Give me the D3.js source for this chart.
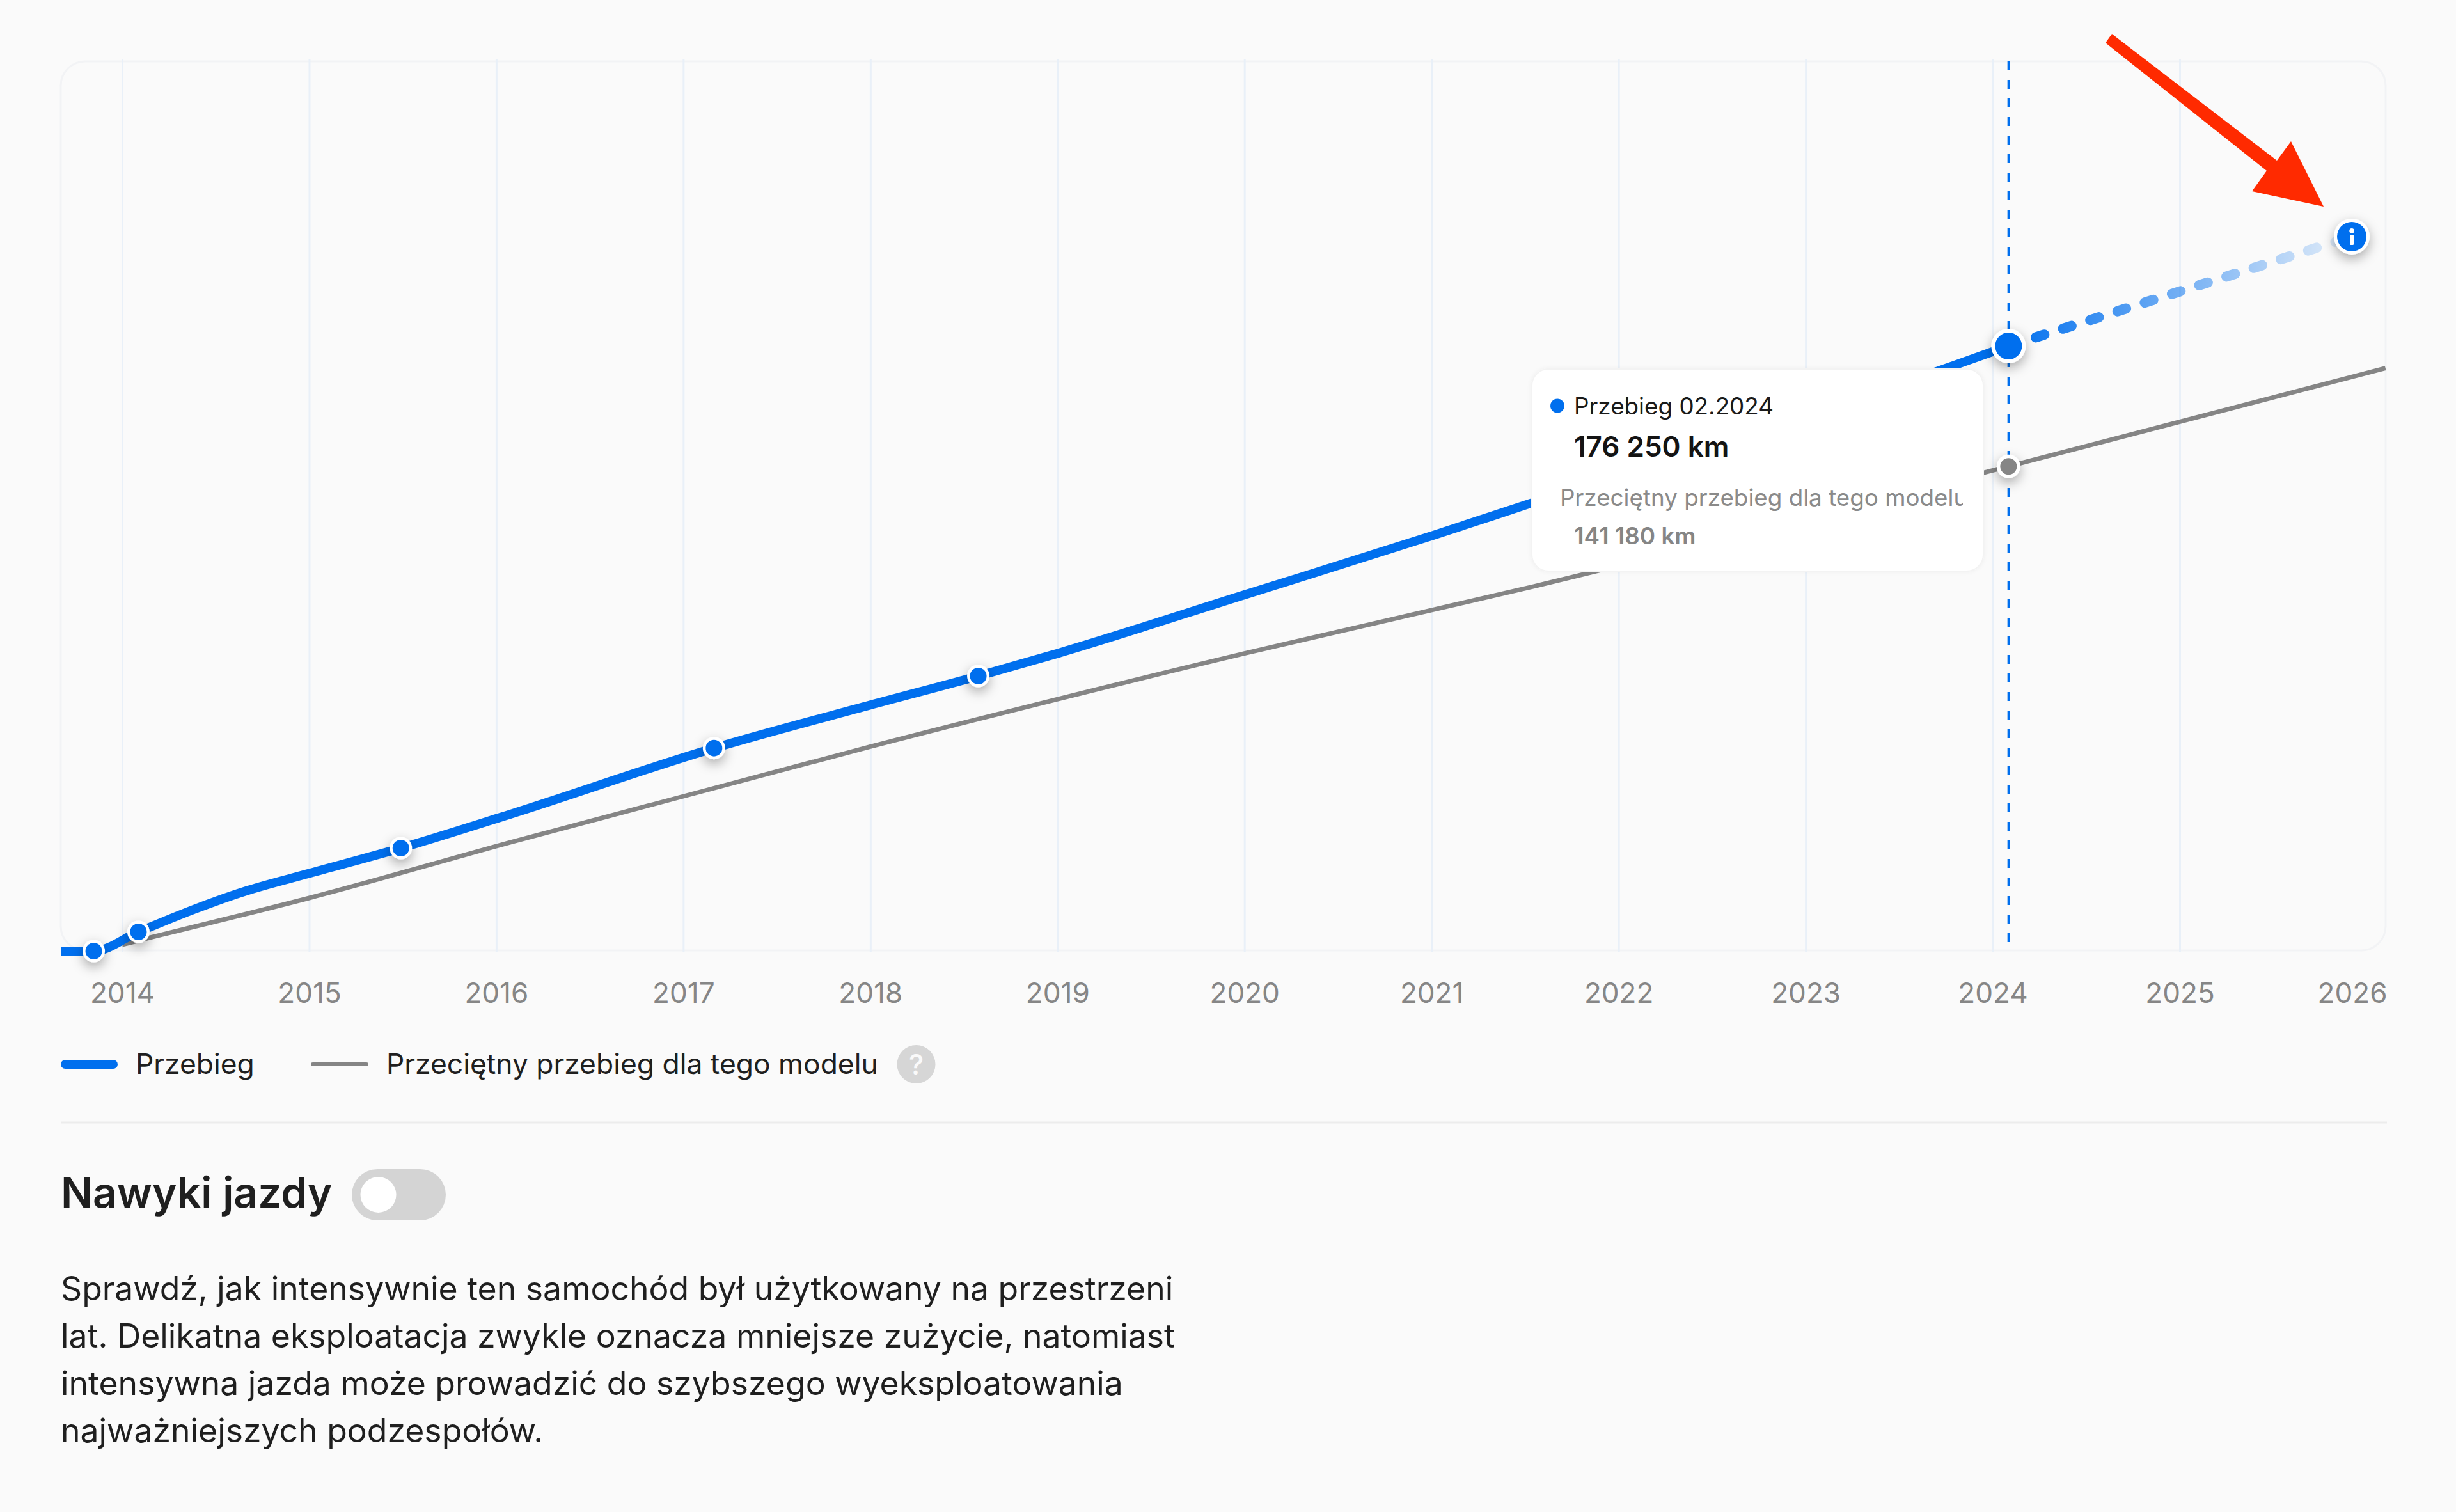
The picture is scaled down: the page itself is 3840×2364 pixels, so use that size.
<!DOCTYPE html>
<html lang="pl">
<head>
<meta charset="utf-8">
<title>Przebieg</title>
<script src="https://cdn.jsdelivr.net/npm/d3@7"></script>
<style>
html, body { margin: 0; background: #fafafa; }
svg { display: block; font-family: Inter, "Noto Sans", sans-serif; }
</style>
</head>
<body>
<svg id="chart" width="3840" height="2364"></svg>
<script>

/*********************
 * data
 *********************/

var tickYears = [2014, 2015, 2016, 2017, 2018, 2019, 2020, 2021, 2022, 2023, 2024, 2025, 2026];

// mileage line (year as a fraction, km)
var przebiegYears = [2013.672, 2013.848, 2014.087, 2014.673, 2015.0, 2015.49, 2016.08, 2017.164, 2018.0, 2018.577, 2019.0, 2020.0, 2021.0, 2021.52, 2023.74, 2024.085];
var przebiegKm = [0, 0, 5590, 17700, 22640, 30000, 39950, 59120, 71680, 80120, 86700, 103780, 120930, 130240, 169550, 176250];

// which of them carry a marker
var markerIdx = [1, 2, 5, 7, 9];

// dashed forecast
var prognozaYears = [2024.085, 2025.92];
var prognozaKm = [176250, 208130];

// model average
var sredniaYears = [2014.0, 2014.095, 2015.0, 2016.08, 2018.0, 2020.0, 2021.55, 2024.085, 2026.1];
var sredniaKm = [1860, 3170, 15465, 31750, 59550, 86700, 106260, 141180, 169800];

var legendLabels = ['Przebieg', 'Przeciętny przebieg dla tego modelu'];
var bodyLines = [
    'Sprawdź, jak intensywnie ten samochód był użytkowany na przestrzeni',
    'lat. Delikatna eksploatacja zwykle oznacza mniejsze zużycie, natomiast',
    'intensywna jazda może prowadzić do szybszego wyeksploatowania',
    'najważniejszych podzespołów.'
];


/*********************
 * setup
 *********************/

var BLUE = '#006fee';
var GREY = '#858585';
var INK = '#1f1f1f';

var plot = { left: 95, right: 3730, top: 96, bottom: 1486 };

var x = d3.scaleLinear().domain([2014, 2025]).range([191, 3408]);
var y = d3.scaleLinear().domain([0, 176250]).range([1487, 541]);

var svg = d3.select('#chart');
var defs = svg.append('defs');

var shadow = defs.append('filter')
    .attr('id', 'shadow')
    .attr('x', '-100%').attr('y', '-100%')
    .attr('width', '300%').attr('height', '300%')
    ;
shadow.append('feDropShadow')
    .attr('dx', 0).attr('dy', 7)
    .attr('stdDeviation', 9)
    .attr('flood-color', '#000')
    .attr('flood-opacity', 0.32)
    ;

var cardShadow = defs.append('filter')
    .attr('id', 'cardShadow')
    .attr('x', '-10%').attr('y', '-10%')
    .attr('width', '120%').attr('height', '120%')
    ;
cardShadow.append('feDropShadow')
    .attr('dx', 0).attr('dy', 0)
    .attr('stdDeviation', 3)
    .attr('flood-color', '#000')
    .attr('flood-opacity', 0.05)
    ;

var fade = defs.append('linearGradient')
    .attr('id', 'fade')
    .attr('gradientUnits', 'userSpaceOnUse')
    .attr('x1', x(prognozaYears[0])).attr('x2', x(prognozaYears[1]))
    .attr('y1', 0).attr('y2', 0)
    ;
fade.append('stop').attr('offset', 0).attr('stop-color', BLUE).attr('stop-opacity', 1);
fade.append('stop').attr('offset', 1).attr('stop-color', BLUE).attr('stop-opacity', 0.08);

defs.append('clipPath')
    .attr('id', 'tooltipClip')
    .append('rect')
    .attr('x', 2395).attr('y', 577)
    .attr('width', 674).attr('height', 316)
    ;


/*********************
 * plot frame + axis
 *********************/

svg.append('rect')
    .attr('x', plot.left).attr('y', plot.top)
    .attr('width', plot.right - plot.left)
    .attr('height', plot.bottom - plot.top)
    .attr('rx', 38)
    .attr('fill', '#fafafa')
    .attr('stroke', '#f2f3f5')
    .attr('stroke-width', 3)
    ;

var axis = d3.axisBottom(x)
    .tickValues(tickYears)
    .tickFormat(d3.format('d'))
    .tickSize(plot.top - plot.bottom - 3)
    .tickPadding(0)
    ;

var axisG = svg.append('g')
    .attr('transform', 'translate(0,' + plot.bottom + ')')
    .call(axis)
    ;

axisG.select('.domain').remove();

axisG.selectAll('.tick line')
    .attr('y1', 3)
    .attr('stroke', '#e9f0f8')
    .attr('stroke-width', 3)
    .attr('display', function(d) { return d === 2026 ? 'none' : null; })
    ;

axisG.selectAll('.tick text')
    .attr('y', 0)
    .attr('dy', 0)
    .attr('transform', 'translate(0,82)')
    .attr('font-family', 'Inter')
    .attr('font-size', 44.1)
    .attr('fill', '#868686')
    ;

// last label is pushed inside the frame
axisG.selectAll('.tick')
    .filter(function(d) { return d === 2026; })
    .select('text')
    .attr('text-anchor', 'end')
    .attr('x', plot.right + 2 - x(2026))
    ;


/*********************
 * lines
 *********************/

var line = d3.line()
    .x(function(d) { return x(d[0]); })
    .y(function(d) { return y(d[1]); })
    .curve(d3.curveMonotoneX)
    ;

svg.append('line')
    .attr('x1', x(2024.085)).attr('x2', x(2024.085))
    .attr('y1', plot.top).attr('y2', 1474)
    .attr('stroke', BLUE)
    .attr('stroke-width', 3.5)
    .attr('stroke-dasharray', '14 15')
    ;

svg.append('path')
    .attr('d', line(d3.zip(sredniaYears, sredniaKm)))
    .attr('fill', 'none')
    .attr('stroke', GREY)
    .attr('stroke-width', 7)
    ;

svg.append('path')
    .attr('d', line(d3.zip(przebiegYears, przebiegKm)))
    .attr('fill', 'none')
    .attr('stroke', BLUE)
    .attr('stroke-width', 14)
    ;

svg.append('path')
    .attr('d', d3.line()
        .x(function(d) { return x(d[0]); })
        .y(function(d) { return y(d[1]); })(d3.zip(prognozaYears, prognozaKm)))
    .attr('fill', 'none')
    .attr('stroke', 'url(#fade)')
    .attr('stroke-width', 16)
    .attr('stroke-linecap', 'round')
    .attr('stroke-dasharray', '14 30.7')
    ;


/*********************
 * markers
 *********************/

function marker(cx, cy, rOut, rIn, color) {
    svg.append('circle')
        .attr('cx', cx).attr('cy', cy)
        .attr('r', rOut)
        .attr('fill', '#fff')
        .attr('filter', 'url(#shadow)')
        ;
    svg.append('circle')
        .attr('cx', cx).attr('cy', cy)
        .attr('r', rIn)
        .attr('fill', color)
        ;
}

markerIdx.forEach(function(i) {
    marker(x(przebiegYears[i]), y(przebiegKm[i]), 17.5, 13, BLUE);
});

var lastI = przebiegYears.length - 1;
marker(x(przebiegYears[lastI]), y(przebiegKm[lastI]), 27, 21, BLUE);
marker(x(2024.085), y(141180), 18.5, 13, GREY);

// info end point
var endX = x(prognozaYears[1]);
var endY = y(prognozaKm[1]);
marker(endX, endY, 28, 23, BLUE);
svg.append('circle')
    .attr('cx', endX).attr('cy', endY - 9)
    .attr('r', 3.8)
    .attr('fill', '#fff')
    ;
svg.append('rect')
    .attr('x', endX - 3).attr('y', endY - 3)
    .attr('width', 6).attr('height', 16)
    .attr('rx', 1.5)
    .attr('fill', '#fff')
    ;


/*********************
 * red arrow
 *********************/

svg.append('polygon')
    .attr('points', '3302,53 3292,67 3544,267 3521,299 3633,323 3582,221 3560,251')
    .attr('fill', '#ff2a00')
    ;


/*********************
 * tooltip
 *********************/

svg.append('rect')
    .attr('x', 2395).attr('y', 577)
    .attr('width', 706).attr('height', 316)
    .attr('rx', 26)
    .attr('fill', '#fff')
    .attr('stroke', '#f3f3f3')
    .attr('stroke-width', 2)
    .attr('filter', 'url(#cardShadow)')
    ;

svg.append('circle')
    .attr('cx', 2435).attr('cy', 634.5)
    .attr('r', 11)
    .attr('fill', BLUE)
    ;

var tipG = svg.append('g').attr('clip-path', 'url(#tooltipClip)');

tipG.append('text')
    .attr('x', 2461).attr('y', 648)
    .attr('font-size', 36.8)
    .attr('fill', '#1a1a1a')
    .text('Przebieg 02.2024')
    ;
tipG.append('text')
    .attr('x', 2461).attr('y', 714)
    .attr('font-size', 44)
    .attr('font-weight', 600)
    .attr('fill', '#141414')
    .text('176 250 km')
    ;
tipG.append('text')
    .attr('x', 2439).attr('y', 791)
    .attr('font-size', 36.8)
    .attr('fill', '#8a8a8a')
    .text('Przeciętny przebieg dla tego modelu')
    ;
tipG.append('text')
    .attr('x', 2461).attr('y', 851)
    .attr('font-size', 36.8)
    .attr('font-weight', 600)
    .attr('fill', '#858585')
    .text('141 180 km')
    ;


/*********************
 * legend
 *********************/

svg.append('line')
    .attr('x1', 102).attr('x2', 177)
    .attr('y1', 1664).attr('y2', 1664)
    .attr('stroke', BLUE)
    .attr('stroke-width', 14)
    .attr('stroke-linecap', 'round')
    ;
svg.append('line')
    .attr('x1', 489).attr('x2', 573)
    .attr('y1', 1664).attr('y2', 1664)
    .attr('stroke', GREY)
    .attr('stroke-width', 6)
    .attr('stroke-linecap', 'round')
    ;

svg.selectAll('text.legend')
    .data(legendLabels)
    .enter()
    .append('text')
    .classed('legend', true)
    .attr('x', function(d, i) { return i === 0 ? 212 : 604; })
    .attr('y', 1679)
    .attr('font-size', 44.4)
    .attr('fill', INK)
    .text(function(d) { return d; })
    ;

svg.append('circle')
    .attr('cx', 1432.5).attr('cy', 1664)
    .attr('r', 30)
    .attr('fill', '#d6d6d6')
    ;
svg.append('text')
    .attr('x', 1432.5).attr('y', 1680)
    .attr('text-anchor', 'middle')
    .attr('font-size', 44)
    .attr('font-weight', 500)
    .attr('fill', '#fafafa')
    .text('?')
    ;


/*********************
 * section below
 *********************/

svg.append('line')
    .attr('x1', 95).attr('x2', 3732)
    .attr('y1', 1755).attr('y2', 1755)
    .attr('stroke', '#ececec')
    .attr('stroke-width', 3)
    ;

svg.append('text')
    .attr('x', 95).attr('y', 1888)
    .attr('font-size', 65.8)
    .attr('font-weight', 600)
    .attr('fill', INK)
    .text('Nawyki jazdy')
    ;

svg.append('rect')
    .attr('x', 550).attr('y', 1828)
    .attr('width', 147).attr('height', 80)
    .attr('rx', 40)
    .attr('fill', '#d4d4d4')
    ;
svg.append('circle')
    .attr('cx', 591.5).attr('cy', 1868)
    .attr('r', 28)
    .attr('fill', '#fff')
    ;

svg.selectAll('text.body')
    .data(bodyLines)
    .enter()
    .append('text')
    .classed('body', true)
    .attr('x', 95)
    .attr('y', function(d, i) { return 2032.6 + i * 74; })
    .attr('font-size', 51.7)
    .attr('fill', INK)
    .text(function(d) { return d; })
    ;

</script>
</body>
</html>
